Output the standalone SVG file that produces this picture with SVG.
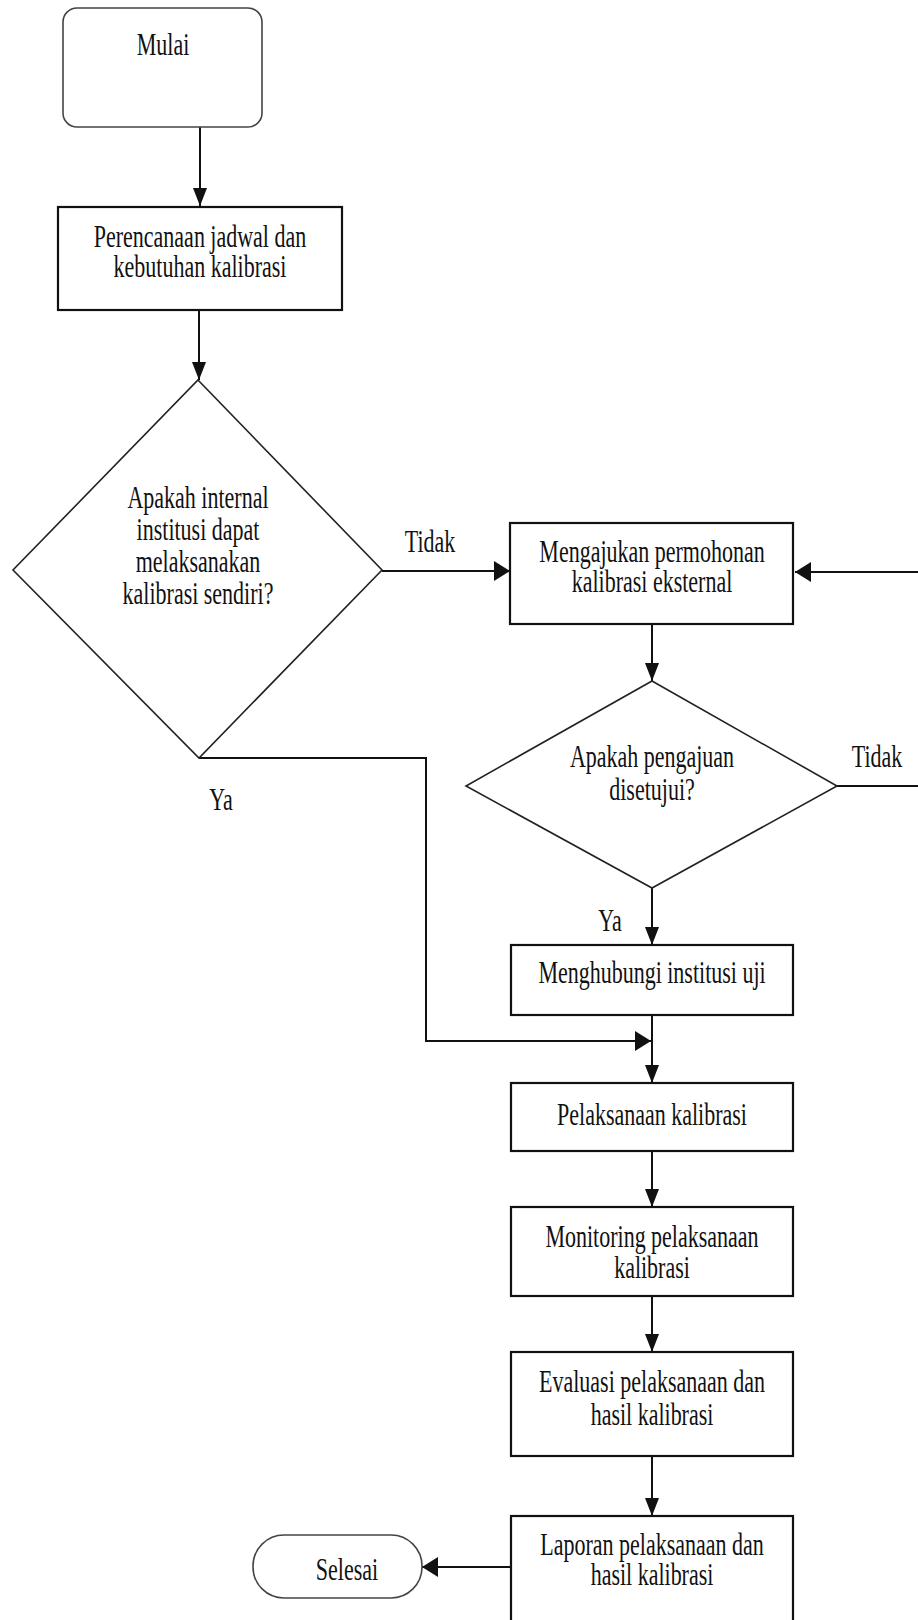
<svg xmlns="http://www.w3.org/2000/svg" width="918" height="1620" viewBox="0 0 918 1620">
<style>
.box{fill:#fff;stroke:#111;stroke-width:2.2}
.dia{fill:#fff;stroke:#222;stroke-width:1.6}
.term{fill:#fff;stroke:#444;stroke-width:1.6}
.t{font-family:"Liberation Serif","Times New Roman",serif;font-size:22px;fill:#111;text-anchor:middle}
.c{fill:none;stroke:#111;stroke-width:2}
</style>
<defs>
<marker id="ad" markerUnits="userSpaceOnUse" markerWidth="18" markerHeight="14" refX="18" refY="7" orient="auto">
<path d="M0,0 L18,7 L0,14 z" fill="#111"/>
</marker>
<marker id="ah" markerUnits="userSpaceOnUse" markerWidth="16" markerHeight="20" refX="16" refY="10" orient="auto">
<path d="M0,0 L16,10 L0,20 z" fill="#111"/>
</marker>
</defs>
<g id="connectors">
<path class="c" d="M200,127 L200,206" marker-end="url(#ad)"/>
<path class="c" d="M199,310 L199,380" marker-end="url(#ad)"/>
<path class="c" d="M382,571 L510,571" marker-end="url(#ah)"/>
<path class="c" d="M918,572 L795,572" stroke-width="2.6" marker-end="url(#ah)"/>
<path class="c" d="M837,786 L918,786"/>
<path class="c" d="M652,624 L652,681" marker-end="url(#ad)"/>
<path class="c" d="M652,888 L652,945" marker-end="url(#ad)"/>
<path class="c" d="M199,758 L426,758 L426,1041 L651,1041" marker-end="url(#ah)"/>
<path class="c" d="M652,1015 L652,1083" marker-end="url(#ad)"/>
<path class="c" d="M652,1151 L652,1207" marker-end="url(#ad)"/>
<path class="c" d="M652,1296 L652,1352" marker-end="url(#ad)"/>
<path class="c" d="M652,1456 L652,1516" marker-end="url(#ad)"/>
<path class="c" d="M510,1567 L422,1567" marker-end="url(#ah)"/>
<text class="t" transform="translate(430,552) scale(1,1.4)">Tidak</text>
<text class="t" transform="translate(221,810) scale(1,1.4)">Ya</text>
<text class="t" transform="translate(877,767) scale(1,1.4)">Tidak</text>
<text class="t" transform="translate(610,931) scale(1,1.4)">Ya</text>
</g>
<g id="mulai">
<rect class="term" x="63" y="8" width="199" height="119" rx="14"/>
<text class="t" transform="translate(163,55) scale(1,1.4)">Mulai</text>
</g>
<g id="perencanaan">
<rect class="box" x="58" y="207" width="284" height="103"/>
<text class="t" transform="translate(200,247) scale(1,1.4)">Perencanaan jadwal dan</text>
<text class="t" transform="translate(200,277) scale(1,1.4)">kebutuhan kalibrasi</text>
</g>
<g id="keputusan-internal">
<polygon class="dia" points="198,380 382,570 199,758 13,570"/>
<text class="t" transform="translate(198,508) scale(1,1.4)">Apakah internal</text>
<text class="t" transform="translate(198,540) scale(1,1.4)">institusi dapat</text>
<text class="t" transform="translate(198,572) scale(1,1.4)">melaksanakan</text>
<text class="t" transform="translate(198,604) scale(1,1.4)">kalibrasi sendiri?</text>
</g>
<g id="mengajukan">
<rect class="box" x="510" y="523" width="283" height="101"/>
<text class="t" transform="translate(652,562) scale(1,1.4)">Mengajukan permohonan</text>
<text class="t" transform="translate(652,592) scale(1,1.4)">kalibrasi eksternal</text>
</g>
<g id="keputusan-pengajuan">
<polygon class="dia" points="652,681 837,786 652,888 466,786"/>
<text class="t" transform="translate(652,767) scale(1,1.4)">Apakah pengajuan</text>
<text class="t" transform="translate(652,800) scale(1,1.4)">disetujui?</text>
</g>
<g id="menghubungi">
<rect class="box" x="511" y="945" width="282" height="70"/>
<text class="t" transform="translate(652,983) scale(1,1.4)">Menghubungi institusi uji</text>
</g>
<g id="pelaksanaan">
<rect class="box" x="511" y="1083" width="282" height="68"/>
<text class="t" transform="translate(652,1125) scale(1,1.4)">Pelaksanaan kalibrasi</text>
</g>
<g id="monitoring">
<rect class="box" x="511" y="1207" width="282" height="89"/>
<text class="t" transform="translate(652,1247) scale(1,1.4)">Monitoring pelaksanaan</text>
<text class="t" transform="translate(652,1278) scale(1,1.4)">kalibrasi</text>
</g>
<g id="evaluasi">
<rect class="box" x="511" y="1352" width="282" height="104"/>
<text class="t" transform="translate(652,1392) scale(1,1.4)">Evaluasi pelaksanaan dan</text>
<text class="t" transform="translate(652,1425) scale(1,1.4)">hasil kalibrasi</text>
</g>
<g id="laporan">
<rect class="box" x="511" y="1516" width="282" height="130"/>
<text class="t" transform="translate(652,1555) scale(1,1.4)">Laporan pelaksanaan dan</text>
<text class="t" transform="translate(652,1585) scale(1,1.4)">hasil kalibrasi</text>
</g>
<g id="selesai">
<rect class="term" x="253" y="1535" width="169" height="63" rx="31"/>
<text class="t" transform="translate(347,1580) scale(1,1.4)">Selesai</text>
</g>
</svg>
